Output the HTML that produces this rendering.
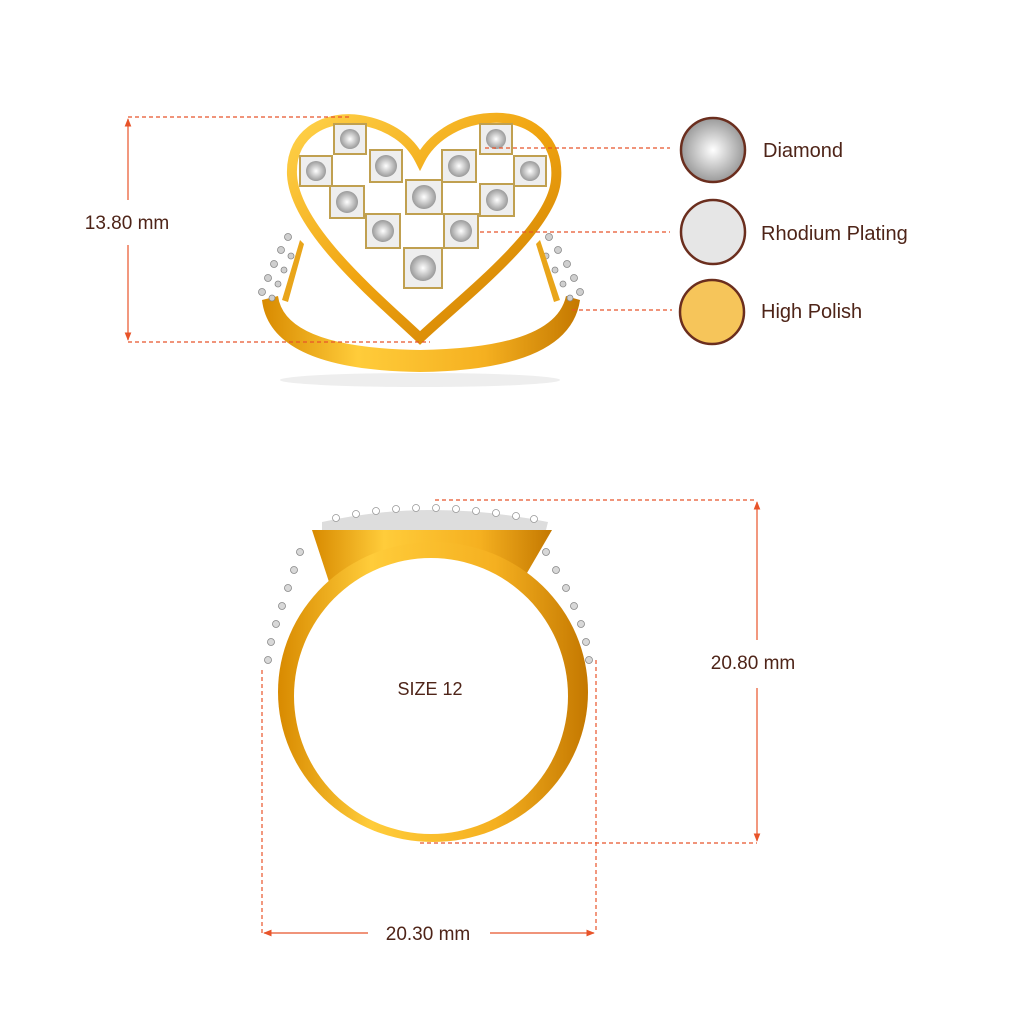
<!DOCTYPE html>
<html><head><meta charset="utf-8"><style>
html,body{margin:0;padding:0;background:#fff;}
svg{display:block}
text{font-family:"Liberation Sans",sans-serif;fill:#4e2418}
</style></head><body>
<svg width="1024" height="1024" viewBox="0 0 1024 1024" xmlns="http://www.w3.org/2000/svg">
<defs>
<linearGradient id="g" x1="0" y1="0" x2="1" y2="1">
<stop offset="0" stop-color="#ffd24a"/><stop offset="0.5" stop-color="#f0a410"/><stop offset="1" stop-color="#c97a00"/>
</linearGradient>
<linearGradient id="g2" x1="0" y1="0" x2="1" y2="0">
<stop offset="0" stop-color="#d88a00"/><stop offset="0.3" stop-color="#ffcc3a"/><stop offset="0.7" stop-color="#f5b020"/><stop offset="1" stop-color="#c47800"/>
</linearGradient>
<radialGradient id="dia"><stop offset="0" stop-color="#fff"/><stop offset="1" stop-color="#9a9a9a"/></radialGradient>
<marker id="ar" viewBox="0 0 10 10" refX="9" refY="5" markerWidth="7" markerHeight="7" orient="auto-start-reverse"><path d="M0,1 L10,5 L0,9 z" fill="#e8542a"/></marker>
</defs>

<!-- TOP RING -->
<ellipse cx="420" cy="380" rx="140" ry="7" fill="#eee"/>
<path d="M262,300 Q270,370 420,372 Q570,370 580,300 L566,296 Q555,348 420,350 Q285,348 278,296 Z" fill="url(#g2)"/>
<g fill="#cfcfcf" stroke="#888" stroke-width="0.8">
<circle cx="262" cy="292" r="3.5"/><circle cx="268" cy="278" r="3.5"/><circle cx="274" cy="264" r="3.5"/><circle cx="281" cy="250" r="3.5"/><circle cx="288" cy="237" r="3.5"/>
<circle cx="272" cy="298" r="3"/><circle cx="278" cy="284" r="3"/><circle cx="284" cy="270" r="3"/><circle cx="291" cy="256" r="3"/>
<circle cx="580" cy="292" r="3.5"/><circle cx="574" cy="278" r="3.5"/><circle cx="567" cy="264" r="3.5"/><circle cx="558" cy="250" r="3.5"/><circle cx="549" cy="237" r="3.5"/>
<circle cx="570" cy="298" r="3"/><circle cx="563" cy="284" r="3"/><circle cx="555" cy="270" r="3"/><circle cx="546" cy="256" r="3"/>
</g>
<path d="M282,300 L300,240 L304,244 L288,302 Z" fill="#e9a51a"/>
<path d="M560,300 L540,240 L536,244 L554,302 Z" fill="#e9a51a"/>
<path d="M420,338 C380,300 295,230 292,175 C290,130 330,115 360,120 C390,125 410,140 420,160 C430,140 455,120 490,118 C530,115 560,140 556,180 C552,230 460,300 420,338 Z" fill="none" stroke="url(#g)" stroke-width="10"/>
<path d="M420,338 C380,300 295,230 292,175 C290,130 330,115 360,120 C390,125 410,140 420,160 C430,140 455,120 490,118 C530,115 560,140 556,180 C552,230 460,300 420,338 Z" fill="none" stroke="#fff" stroke-width="0"/>
<g fill="#eee" stroke="#c0a050" stroke-width="2">
<rect x="334" y="124" width="32" height="30"/><rect x="480" y="124" width="32" height="30"/>
<rect x="300" y="156" width="32" height="30"/><rect x="370" y="150" width="32" height="32"/><rect x="442" y="150" width="34" height="32"/><rect x="514" y="156" width="32" height="30"/>
<rect x="406" y="180" width="36" height="34"/><rect x="330" y="186" width="34" height="32"/><rect x="480" y="184" width="34" height="32"/>
<rect x="366" y="214" width="34" height="34"/><rect x="444" y="214" width="34" height="34"/>
<rect x="404" y="248" width="38" height="40"/>
</g>
<g fill="url(#dia)">
<circle cx="350" cy="139" r="10"/><circle cx="496" cy="139" r="10"/><circle cx="316" cy="171" r="10"/><circle cx="386" cy="166" r="11"/><circle cx="459" cy="166" r="11"/><circle cx="530" cy="171" r="10"/><circle cx="424" cy="197" r="12"/><circle cx="347" cy="202" r="11"/><circle cx="497" cy="200" r="11"/><circle cx="383" cy="231" r="11"/><circle cx="461" cy="231" r="11"/><circle cx="423" cy="268" r="13"/>
</g>

<!-- BOTTOM RING -->
<path d="M322,522 Q430,498 548,522 L546,530 L322,530 Z" fill="#ddd"/>
<g fill="#fff" stroke="#999" stroke-width="0.8">
<circle cx="336" cy="518" r="3.5"/><circle cx="356" cy="514" r="3.5"/><circle cx="376" cy="511" r="3.5"/><circle cx="396" cy="509" r="3.5"/><circle cx="416" cy="508" r="3.5"/><circle cx="436" cy="508" r="3.5"/><circle cx="456" cy="509" r="3.5"/><circle cx="476" cy="511" r="3.5"/><circle cx="496" cy="513" r="3.5"/><circle cx="516" cy="516" r="3.5"/><circle cx="534" cy="519" r="3.5"/>
</g>
<path d="M312,530 L552,530 L520,585 L330,585 Z" fill="url(#g2)"/>
<ellipse cx="433" cy="692" rx="155" ry="150" fill="url(#g2)"/>
<ellipse cx="431" cy="696" rx="137" ry="138" fill="#fff"/>
<g fill="#d8d8d8" stroke="#888" stroke-width="0.8">
<circle cx="300" cy="552" r="3.5"/><circle cx="294" cy="570" r="3.5"/><circle cx="288" cy="588" r="3.5"/><circle cx="282" cy="606" r="3.5"/><circle cx="276" cy="624" r="3.5"/><circle cx="271" cy="642" r="3.5"/><circle cx="268" cy="660" r="3.5"/>
<circle cx="546" cy="552" r="3.5"/><circle cx="556" cy="570" r="3.5"/><circle cx="566" cy="588" r="3.5"/><circle cx="574" cy="606" r="3.5"/><circle cx="581" cy="624" r="3.5"/><circle cx="586" cy="642" r="3.5"/><circle cx="589" cy="660" r="3.5"/>
</g>
<text x="430" y="695" font-size="18" text-anchor="middle">SIZE 12</text>

<!-- DIMENSIONS -->
<g stroke="#e8542a" stroke-width="1.2" fill="none">
<line x1="128" y1="117" x2="350" y2="117" stroke-dasharray="4,3"/>
<line x1="128" y1="342" x2="430" y2="342" stroke-dasharray="4,3"/>
<line x1="128" y1="200" x2="128" y2="119" marker-end="url(#ar)"/>
<line x1="128" y1="245" x2="128" y2="340" marker-end="url(#ar)"/>
<line x1="435" y1="500" x2="757" y2="500" stroke-dasharray="4,3"/>
<line x1="420" y1="843" x2="757" y2="843" stroke-dasharray="4,3"/>
<line x1="757" y1="640" x2="757" y2="502" marker-end="url(#ar)"/>
<line x1="757" y1="688" x2="757" y2="841" marker-end="url(#ar)"/>
<line x1="262" y1="670" x2="262" y2="933" stroke-dasharray="4,3"/>
<line x1="596" y1="660" x2="596" y2="933" stroke-dasharray="4,3"/>
<line x1="368" y1="933" x2="264" y2="933" marker-end="url(#ar)"/>
<line x1="490" y1="933" x2="594" y2="933" marker-end="url(#ar)"/>
<line x1="485" y1="148" x2="670" y2="148" stroke-dasharray="4,3"/>
<line x1="480" y1="232" x2="670" y2="232" stroke-dasharray="4,3"/>
<line x1="572" y1="310" x2="672" y2="310" stroke-dasharray="4,3"/>
</g>
<text x="127" y="229" font-size="19" text-anchor="middle">13.80 mm</text>
<text x="753" y="669" font-size="19" text-anchor="middle">20.80 mm</text>
<text x="428" y="940" font-size="19" text-anchor="middle">20.30 mm</text>

<!-- LEGEND -->
<circle cx="713" cy="150" r="32" fill="url(#dia)" stroke="#6b2e1e" stroke-width="2.5"/>
<circle cx="713" cy="232" r="32" fill="#e6e6e6" stroke="#6b2e1e" stroke-width="2.5"/>
<circle cx="712" cy="312" r="32" fill="#f6c55a" stroke="#6b2e1e" stroke-width="2.5"/>
<text x="763" y="157" font-size="20">Diamond</text>
<text x="761" y="240" font-size="20">Rhodium Plating</text>
<text x="761" y="318" font-size="20">High Polish</text>
</svg>
</body></html>
